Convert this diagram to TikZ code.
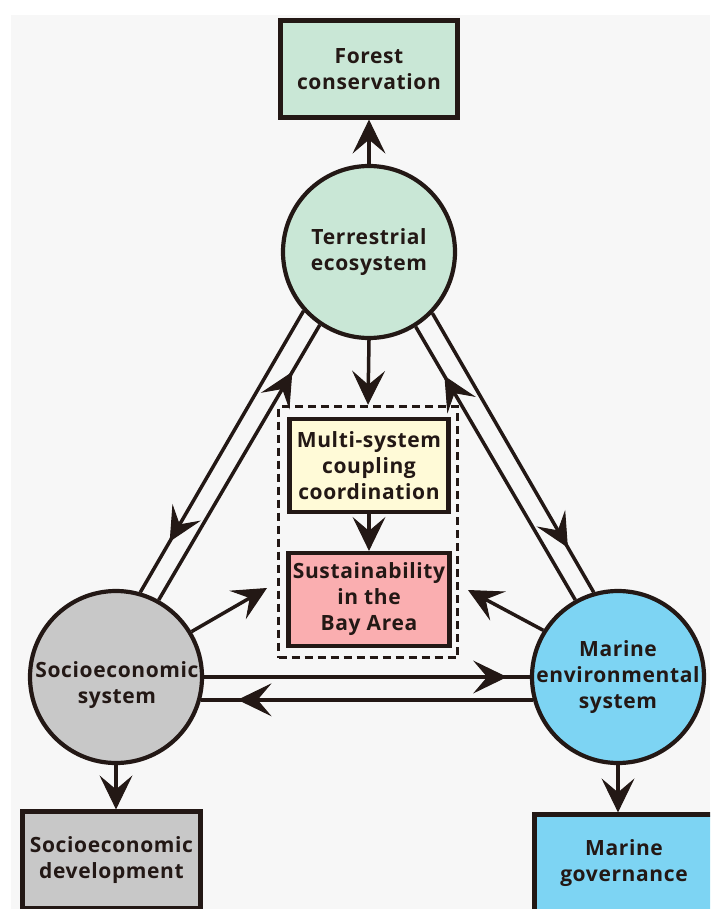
\documentclass[tikz,border=0pt]{standalone}
\usepackage{fontspec}
\setmainfont{Open Sans}[LetterSpace=3.0]
\usetikzlibrary{arrows.meta,calc,decorations.markings}
\definecolor{ink}{HTML}{231815}
\definecolor{tgreen}{HTML}{C9E7D6}
\definecolor{sgray}{HTML}{C8C8C8}
\definecolor{mblue}{HTML}{7DD4F3}
\definecolor{myel}{HTML}{FFFAD7}
\definecolor{mpink}{HTML}{FAAEB0}
\definecolor{bgc}{HTML}{F7F7F7}
\tikzset{
  txt/.style={font=\fontsize{21}{26}\selectfont\bfseries, text=ink, align=center},
  sys/.style={txt, circle, draw=ink, line width=4.2pt, minimum size=172pt, inner sep=-15pt},
  box/.style={txt, rectangle, draw=ink, line width=4.2pt, inner sep=0pt},
  conn/.style={draw=ink, line width=3.5pt, -{Stealth[length=34pt,width=33pt,inset=14pt,line width=1pt]}},
  plain/.style={draw=ink, line width=3.5pt},
  midarr/.style={postaction={decorate, decoration={markings,
      mark=at position #1 with {\arrow{Stealth[length=34pt,width=33pt,inset=14pt,line width=1pt]}}}}}
}
\begin{document}
\begin{tikzpicture}[x=1pt,y=-1pt]
\useasboundingbox (0,0) rectangle (710,909);
\clip (0,0) rectangle (710,909);
\fill[white] (0,0) rectangle (710,909);
\fill[bgc] (11,15) rectangle (710,909);

% central
\node[draw=ink, line width=3.5pt, dash pattern=on 8pt off 5pt, minimum width=179pt, minimum height=251pt, inner sep=0pt] (D) at (368,532) {};
\node[box, fill=myel, minimum width=159pt, minimum height=93pt] (MS) at (369,465.5) {Multi-system\\coupling\\coordination};
\node[box, fill=mpink, minimum width=161pt, minimum height=93pt] (SB) at (369,599.5) {Sustainability\\in the\\Bay Area};

% main systems
\node[sys, fill=tgreen] (T) at (369,252) {Terrestrial\\ecosystem};
\node[sys, fill=sgray] (S) at (116,677) {};
\node[txt] (St) at (117,685) {Socioeconomic\\system};
\node[sys, fill=mblue] (M) at (618,677) {Marine\\environmental\\system};

% outcome boxes
\node[box, fill=tgreen, minimum width=177pt, minimum height=97pt] (F) at (369,69) {Forest\\conservation};
\node[box, fill=sgray, minimum width=178pt, minimum height=97pt] (SD) at (111.5,860) {Socioeconomic\\development};
\node[box, fill=mblue, minimum width=179pt, minimum height=97pt] (MG) at (624,863) {Marine\\governance};

\coordinate (sa) at (267,588);
\coordinate (ma) at (468,590);

% vertical arrows
\draw[conn] (T.north) -- (F.south);
\draw[conn] (T.south) -- (D.north);
\draw[conn] (MS.south) -- (SB.north);
\draw[conn] (S.south) -- (S.south |- SD.north);
\draw[conn] (M.south) -- (M.south |- MG.north);

% to sustainability
\draw[conn] (S.31) -- (sa);
\draw[conn] (M.148.5) -- (ma);

% double links
\draw[plain, midarr=0.82] (T.222) -- (S.74);
\draw[plain, midarr=0.83] (S.61) -- (T.236);
\draw[plain, midarr=0.84] (T.316) -- (M.106);
\draw[plain, midarr=0.82] (M.119) -- (T.302);
\draw[plain, midarr=0.93] (S.0) -- (M.180);
\draw[plain, midarr=0.89] (M.195.5) -- (S.-15.5);
\end{tikzpicture}
\end{document}
